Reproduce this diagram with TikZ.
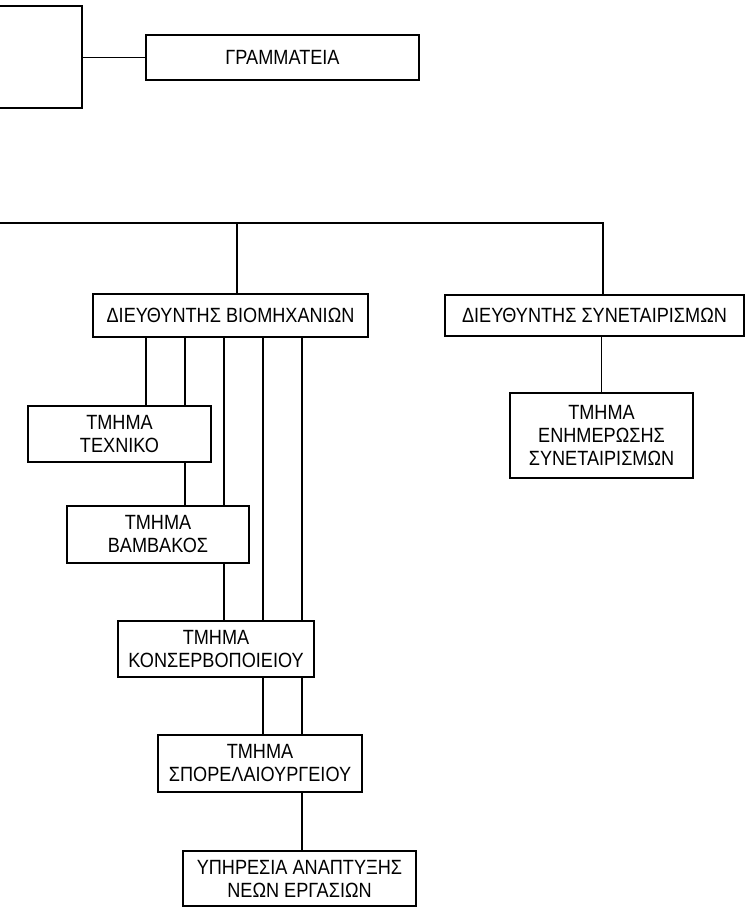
\documentclass[tikz,border=0pt]{standalone}
\usepackage{fontspec}
\setmainfont[FakeStretch=0.88]{Liberation Sans}
\begin{document}
\begin{tikzpicture}[x=1pt,y=-1pt,
  box/.style={draw, line width=1.4pt, align=center, inner sep=0pt,
    font=\fontsize{20.6}{23}\selectfont},
  conn/.style={line width=1.4pt}]
\clip (0,0) rectangle (746,909);
% boxes
\node[box, minimum width=90pt, minimum height=102pt] (chief) at (37,57) {};
\node[box, minimum width=273pt, minimum height=45pt] (gram) at (282.5,57.5) {ΓΡΑΜΜΑΤΕΙΑ};
\node[box, minimum width=275pt, minimum height=43pt] (bio) at (230.5,315.5) {ΔΙΕΥΘΥΝΤΗΣ ΒΙΟΜΗΧΑΝΙΩΝ};
\node[box, minimum width=299pt, minimum height=41pt] (syn) at (594.5,315.5) {ΔΙΕΥΘΥΝΤΗΣ ΣΥΝΕΤΑΙΡΙΣΜΩΝ};
\node[box, minimum width=183pt, minimum height=85pt] (enim) at (601.5,435.5) {ΤΜΗΜΑ\\ΕΝΗΜΕΡΩΣΗΣ\\ΣΥΝΕΤΑΙΡΙΣΜΩΝ};
\node[box, minimum width=183pt, minimum height=56pt] (tech) at (119.5,434) {ΤΜΗΜΑ\\ΤΕΧΝΙΚΟ};
\node[box, minimum width=182pt, minimum height=57pt] (bamb) at (158,534.5) {ΤΜΗΜΑ\\ΒΑΜΒΑΚΟΣ};
\node[box, minimum width=196pt, minimum height=56pt] (kons) at (216,649) {ΤΜΗΜΑ\\ΚΟΝΣΕΡΒΟΠΟΙΕΙΟΥ};
\node[box, minimum width=204pt, minimum height=57pt] (spor) at (260,763.5) {ΤΜΗΜΑ\\ΣΠΟΡΕΛΑΙΟΥΡΓΕΙΟΥ};
\node[box, minimum width=233pt, minimum height=55pt] (ypir) at (299.5,878.5) {ΥΠΗΡΕΣΙΑ ΑΝΑΠΤΥΞΗΣ\\ΝΕΩΝ ΕΡΓΑΣΙΩΝ};
% coordinates for connector columns
\coordinate (L) at (-5,223);
\coordinate (jb) at (237,223);
\coordinate (js) at (603,223);
\coordinate (c1) at (146,0);
\coordinate (c2) at (185,0);
\coordinate (c3) at (224,0);
\coordinate (c4) at (263,0);
\coordinate (c5) at (302,0);
% connectors
\draw[conn] (chief.east |- gram.west) -- (gram.west);
\draw[conn] (L) -- (js) -- (js |- syn.north);
\draw[conn] (jb) -- (jb |- bio.north);
\draw[conn] (syn.south -| enim.north) -- (enim.north);
\draw[conn] (c1 |- bio.south) -- (c1 |- tech.north);
\draw[conn] (c2 |- bio.south) -- (c2 |- tech.north);
\draw[conn] (c2 |- tech.south) -- (c2 |- bamb.north);
\draw[conn] (c3 |- bio.south) -- (c3 |- bamb.north);
\draw[conn] (c3 |- bamb.south) -- (c3 |- kons.north);
\draw[conn] (c4 |- bio.south) -- (c4 |- kons.north);
\draw[conn] (c4 |- kons.south) -- (c4 |- spor.north);
\draw[conn] (c5 |- bio.south) -- (c5 |- kons.north);
\draw[conn] (c5 |- kons.south) -- (c5 |- spor.north);
\draw[conn] (c5 |- spor.south) -- (c5 |- ypir.north);
\end{tikzpicture}
\end{document}
